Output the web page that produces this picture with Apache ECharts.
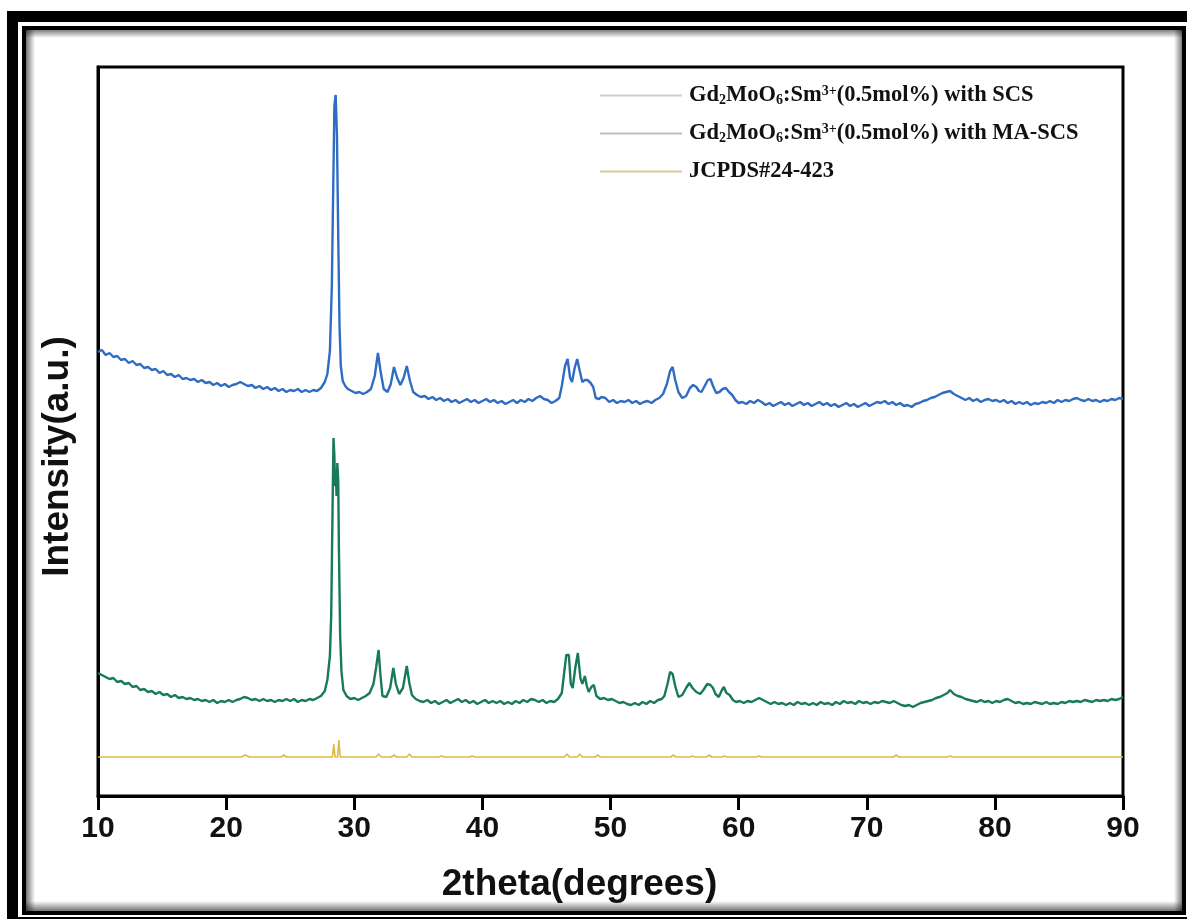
<!DOCTYPE html>
<html>
<head>
<meta charset="utf-8">
<script src="https://cdn.jsdelivr.net/npm/echarts@6/dist/echarts.min.js"></script>
<style>
  html, body { margin: 0; padding: 0; background: #fff; }
  #chart { width: 1187px; height: 919px; }
</style>
</head>
<body>
<div id="chart"></div>
<script>
// series names (legend order)
const seriesNames = [
  'Gd₂MoO₆:Sm³⁺(0.5mol%) with SCS',
  'Gd₂MoO₆:Sm³⁺(0.5mol%) with MA-SCS',
  'JCPDS#24-423'
];
const xTicks = [10, 20, 30, 40, 50, 60, 70, 80, 90];

// MA-SCS pattern (top, blue), stacked offset already included
const maScs = [
  [10.0,444],[10.3,446],[10.6,441],[10.9,443],[11.2,439],[11.5,440],[11.8,436],[12.1,437],[12.4,433],[12.7,435],
  [13.0,431],[13.3,432],[13.6,428],[13.9,429],[14.2,426],[14.5,427],[14.8,423],[15.1,425],[15.4,421],[15.7,422],
  [16.0,419],[16.3,421],[16.6,417],[16.9,418],[17.2,416],[17.5,417],[17.8,414],[18.1,416],[18.4,413],[18.7,414],
  [19.0,411],[19.3,413],[19.6,410],[19.9,412],[20.2,409],[20.5,411],[20.8,412],[21.1,414],[21.4,412],[21.7,410],
  [22.0,411],[22.3,408],[22.6,410],[22.9,407],[23.2,409],[23.5,406],[23.8,408],[24.1,405],[24.4,407],[24.7,404],
  [25.0,406],[25.3,405],[25.6,407],[25.9,404],[26.2,406],[26.5,404],[26.8,406],[27.1,405],[27.4,408],[27.7,414],
  [27.9,422],[28.1,445],[28.25,510],[28.35,600],[28.45,690],[28.55,701],[28.65,660],[28.75,560],[28.85,470],[28.95,430],
  [29.1,415],[29.3,410],[29.5,407],[29.8,405],[30.1,403],[30.4,404],[30.7,402],[31.0,404],[31.3,407],[31.6,420],
  [31.85,443],[32.05,425],[32.3,407],[32.6,404],[32.85,412],[33.1,429],[33.35,418],[33.6,411],[33.85,418],[34.1,430],
  [34.35,415],[34.6,404],[34.9,401],[35.2,399],[35.5,400],[35.8,397],[36.1,399],[36.4,396],[36.7,398],[37.0,395],
  [37.3,397],[37.6,394],[37.9,396],[38.2,393],[38.5,395],[38.8,397],[39.1,394],[39.4,396],[39.7,393],[40.0,395],
  [40.3,397],[40.6,394],[40.9,396],[41.2,393],[41.5,395],[41.8,392],[42.1,394],[42.4,396],[42.7,393],[43.0,396],
  [43.3,394],[43.6,397],[43.9,395],[44.2,398],[44.5,400],[44.8,397],[45.1,396],[45.4,393],[45.7,395],[46.0,398],
  [46.2,410],[46.45,430],[46.65,437],[46.85,418],[47.0,414],[47.2,428],[47.4,437],[47.6,425],[47.8,414],[48.0,416],
  [48.2,416],[48.45,413],[48.65,409],[48.85,398],[49.1,397],[49.3,399],[49.6,398],[49.9,394],[50.2,396],[50.5,393],
  [50.8,395],[51.1,394],[51.4,396],[51.7,393],[52.0,395],[52.3,392],[52.6,394],[52.9,395],[53.2,393],[53.5,396],
  [53.8,398],[54.1,402],[54.4,412],[54.65,425],[54.85,429],[55.05,416],[55.3,404],[55.6,398],[55.9,400],[56.2,408],
  [56.45,411],[56.7,409],[56.9,405],[57.1,404],[57.35,410],[57.6,416],[57.8,417],[58.0,410],[58.25,403],[58.5,404],
  [58.75,407],[59.0,408],[59.25,404],[59.5,401],[59.75,396],[60.0,393],[60.3,394],[60.6,392],[60.9,395],[61.2,393],
  [61.5,396],[61.8,394],[62.1,391],[62.4,393],[62.7,390],[63.0,392],[63.3,394],[63.6,391],[63.9,393],[64.2,390],
  [64.5,392],[64.8,394],[65.1,391],[65.4,393],[65.7,390],[66.0,392],[66.3,394],[66.6,391],[66.9,393],[67.2,390],
  [67.5,392],[67.8,389],[68.1,391],[68.4,393],[68.7,390],[69.0,392],[69.3,389],[69.6,391],[69.9,393],[70.2,390],
  [70.5,392],[70.8,394],[71.1,393],[71.4,395],[71.7,392],[72.0,394],[72.3,391],[72.6,393],[72.9,390],[73.2,391],
  [73.5,389],[73.8,392],[74.1,393],[74.4,395],[74.7,396],[75.0,398],[75.3,399],[75.6,401],[75.9,403],[76.2,404],
  [76.5,405],[76.8,402],[77.1,400],[77.4,398],[77.7,396],[78.0,398],[78.3,395],[78.6,397],[78.9,394],[79.2,396],
  [79.5,397],[79.8,395],[80.1,396],[80.4,394],[80.7,396],[81.0,393],[81.3,395],[81.6,392],[81.9,394],[82.2,392],
  [82.5,394],[82.8,391],[83.1,393],[83.4,392],[83.7,394],[84.0,393],[84.3,395],[84.6,393],[84.9,396],[85.2,394],
  [85.5,396],[85.8,395],[86.1,397],[86.4,398],[86.7,396],[87.0,395],[87.3,397],[87.6,395],[87.9,396],[88.2,394],
  [88.5,396],[88.8,395],[89.1,397],[89.4,396],[89.7,398],[90.0,397]
];

// SCS pattern (middle, green)
const scs = [
  [10.0,123],[10.3,121],[10.6,119],[10.9,117],[11.2,118],[11.5,114],[11.8,115],[12.1,112],[12.4,113],[12.7,109],
  [13.0,110],[13.3,106],[13.6,107],[13.9,104],[14.2,105],[14.5,102],[14.8,104],[15.1,101],[15.4,102],[15.7,99],
  [16.0,101],[16.3,98],[16.6,99],[16.9,97],[17.2,98],[17.5,96],[17.8,97],[18.1,95],[18.4,96],[18.7,94],
  [19.0,96],[19.3,93],[19.6,95],[19.9,94],[20.2,96],[20.5,94],[20.8,96],[21.1,97],[21.4,99],[21.7,98],
  [22.0,96],[22.3,97],[22.6,95],[22.9,97],[23.2,95],[23.5,96],[23.8,94],[24.1,96],[24.4,95],[24.7,97],
  [25.0,95],[25.3,97],[25.6,94],[25.9,96],[26.2,95],[26.5,97],[26.8,96],[27.1,98],[27.4,100],[27.7,105],
  [27.9,116],[28.1,140],[28.2,180],[28.3,280],[28.38,358],[28.45,340],[28.5,310],[28.55,325],[28.62,300],[28.68,333],
  [28.75,315],[28.8,250],[28.9,160],[29.0,125],[29.15,106],[29.4,100],[29.7,97],[30.0,98],[30.3,96],[30.6,98],
  [30.9,100],[31.2,103],[31.5,112],[31.7,128],[31.9,146],[32.05,120],[32.2,100],[32.5,99],[32.8,108],[33.05,128],
  [33.25,112],[33.5,102],[33.8,108],[34.1,130],[34.3,113],[34.5,101],[34.8,97],[35.1,95],[35.4,94],[35.7,96],
  [36.0,93],[36.3,95],[36.6,92],[36.9,94],[37.2,96],[37.5,93],[37.8,95],[38.1,97],[38.4,94],[38.7,96],
  [39.0,93],[39.3,95],[39.6,92],[39.9,94],[40.2,96],[40.5,93],[40.8,95],[41.1,93],[41.4,95],[41.7,92],
  [42.0,94],[42.3,92],[42.6,95],[42.9,93],[43.2,96],[43.5,94],[43.8,97],[44.1,96],[44.4,94],[44.7,96],
  [45.0,93],[45.3,95],[45.6,94],[45.9,97],[46.2,103],[46.4,125],[46.55,141],[46.75,141],[46.9,112],[47.05,108],
  [47.25,128],[47.45,143],[47.65,118],[47.8,112],[48.0,120],[48.15,110],[48.3,104],[48.5,109],[48.7,111],[48.9,100],
  [49.2,97],[49.5,98],[49.8,96],[50.1,97],[50.4,95],[50.7,93],[51.0,94],[51.3,92],[51.6,91],[51.9,93],
  [52.2,91],[52.5,94],[52.8,92],[53.1,95],[53.4,93],[53.7,96],[54.0,97],[54.2,100],[54.45,112],[54.65,124],
  [54.85,122],[55.05,110],[55.3,99],[55.6,101],[55.9,108],[56.15,113],[56.4,108],[56.7,104],[57.0,102],[57.25,106],
  [57.55,112],[57.8,111],[58.0,108],[58.2,102],[58.45,99],[58.7,106],[58.85,109],[59.05,103],[59.3,101],[59.55,96],
  [59.8,94],[60.1,95],[60.4,93],[60.7,95],[61.0,94],[61.3,96],[61.6,98],[61.9,96],[62.2,94],[62.5,92],
  [62.8,94],[63.1,92],[63.4,93],[63.7,91],[64.0,93],[64.3,91],[64.6,94],[64.9,92],[65.2,93],[65.5,91],
  [65.8,93],[66.1,91],[66.4,94],[66.7,92],[67.0,93],[67.3,91],[67.6,94],[67.9,92],[68.2,95],[68.5,93],
  [68.8,94],[69.1,92],[69.4,95],[69.7,93],[70.0,94],[70.3,92],[70.6,94],[70.9,93],[71.2,95],[71.5,94],
  [71.8,93],[72.1,95],[72.4,93],[72.7,91],[73.0,90],[73.3,91],[73.6,89],[73.9,91],[74.2,93],[74.5,94],
  [74.8,95],[75.1,96],[75.4,98],[75.7,99],[76.0,101],[76.3,103],[76.5,106],[76.8,102],[77.1,100],[77.4,99],
  [77.7,97],[78.0,96],[78.3,95],[78.6,94],[78.9,96],[79.2,94],[79.5,95],[79.8,93],[80.1,95],[80.4,94],
  [80.7,96],[81.0,97],[81.3,95],[81.6,93],[81.9,94],[82.2,92],[82.5,93],[82.8,92],[83.1,94],[83.4,93],
  [83.7,92],[84.0,94],[84.3,92],[84.6,93],[84.9,92],[85.2,94],[85.5,93],[85.8,95],[86.1,94],[86.4,95],
  [86.7,94],[87.0,96],[87.3,95],[87.6,94],[87.9,96],[88.2,95],[88.5,96],[88.8,95],[89.1,97],[89.4,96],
  [89.7,97],[90.0,99]
];

// JCPDS#24-423 reference (bottom, yellow)
const jcpds = [
  [10,39],[21.2,39],[21.5,41],[21.8,39],[24.3,39],[24.5,41],[24.7,39],[28.3,39],[28.4,52],[28.5,39],
  [28.7,39],[28.8,56],[28.9,39],[31.7,39],[31.9,42],[32.1,39],[32.9,39],[33.1,41],[33.3,39],[34.1,39],
  [34.3,42],[34.5,39],[36.6,39],[36.8,40],[37.0,39],[39.0,39],[39.2,40],[39.4,39],[46.4,39],[46.6,42],
  [46.8,39],[47.4,39],[47.6,42],[47.8,39],[48.8,39],[49.0,41],[49.2,39],[54.7,39],[54.9,41],[55.1,39],
  [56.2,39],[56.4,40],[56.6,39],[57.5,39],[57.7,41],[57.9,39],[58.7,39],[58.9,40],[59.1,39],[61.4,39],
  [61.6,40],[61.8,39],[72.1,39],[72.3,41],[72.5,39],[76.3,39],[76.5,40],[76.7,39],[90,39]
];

const lineColors = ['#187a58', '#2f6cc2', '#dcbb4a'];
const legendColors = ['#d3cfc1', '#b8bfc8', '#d9c7a0'];

const chart = echarts.init(document.getElementById('chart'));

function richName(name) {
  return name.replace(/₂/g, '{sub|2}').replace(/₆/g, '{sub|6}').replace(/³⁺/g, '{sup|3+}');
}

const option = {
  backgroundColor: '#fff',
  animation: false,
  grid: {
    left: 98, right: 64, top: 67, bottom: 123,
    show: true, borderColor: '#000', borderWidth: 3, backgroundColor: 'transparent'
  },
  legend: {
    orient: 'vertical',
    left: 595, top: 79,
    itemWidth: 82, itemHeight: 2, itemGap: 15,
    icon: 'rect',
    data: seriesNames.map((n, i) => ({
      name: n,
      itemStyle: { color: legendColors[i], borderWidth: 0 }
    })),
    formatter: richName,
    textStyle: {
      fontFamily: 'Liberation Serif', fontWeight: 'bold', fontSize: 22.5, color: '#111',
      padding: [0, 0, 0, 2],
      rich: {
        sub: { fontFamily: 'Liberation Serif', fontWeight: 'bold', fontSize: 14, color: '#111', verticalAlign: 'bottom', padding: [7, 0, 0, 0] },
        sup: { fontFamily: 'Liberation Serif', fontWeight: 'bold', fontSize: 14, color: '#111', verticalAlign: 'top', padding: [0, 0, 7, 0] }
      }
    }
  },
  xAxis: {
    type: 'value', min: 10, max: 90, interval: 10,
    name: '2theta(degrees)', nameLocation: 'middle', nameGap: 70,
    nameTextStyle: { fontFamily: 'Liberation Sans', fontWeight: 'bold', fontSize: 37, color: '#111', padding: [0, 62, 0, 0] },
    axisLine: { lineStyle: { color: '#000', width: 3 } },
    axisTick: { show: true, inside: false, length: 14, lineStyle: { color: '#000', width: 3 } },
    axisLabel: {
      margin: 18, fontFamily: 'Liberation Sans', fontWeight: 'bold', fontSize: 30, color: '#111',
      formatter: v => (xTicks.indexOf(v) >= 0 ? String(v) : '')
    },
    splitLine: { show: false }
  },
  yAxis: {
    type: 'value', min: 0, max: 729,
    name: 'Intensity(a.u.)', nameLocation: 'middle', nameGap: 22,
    nameTextStyle: { fontFamily: 'Liberation Sans', fontWeight: 'bold', fontSize: 37, color: '#111', padding: [0, 50, 0, 0] },
    axisLine: { show: true, lineStyle: { color: '#000', width: 3 } },
    axisTick: { show: false },
    axisLabel: { show: false },
    splitLine: { show: false }
  },
  series: [
    { name: seriesNames[0], type: 'line', data: scs, symbol: 'none', lineStyle: { color: lineColors[0], width: 2.4 }, itemStyle: { color: lineColors[0] } },
    { name: seriesNames[1], type: 'line', data: maScs, symbol: 'none', lineStyle: { color: lineColors[1], width: 2.4 }, itemStyle: { color: lineColors[1] } },
    { name: seriesNames[2], type: 'line', data: jcpds, symbol: 'none', lineStyle: { color: lineColors[2], width: 1.6 }, itemStyle: { color: lineColors[2] } }
  ],
  graphic: [
    // photo frame around the figure
    { type: 'rect', shape: { x: 7, y: 11, width: 1190, height: 920 }, style: { fill: '#000' }, z: -10, silent: true },
    { type: 'rect', shape: { x: 18, y: 22, width: 1169, height: 895 }, style: { fill: '#fff' }, z: -9, silent: true },
    { type: 'rect', shape: { x: 24, y: 28, width: 1160, height: 885 }, style: { fill: '#fff', stroke: '#000', lineWidth: 4 }, z: -8, silent: true },
    { type: 'rect', shape: { x: 26, y: 30, width: 9, height: 881 }, style: { fill: new echarts.graphic.LinearGradient(0, 0, 1, 0, [{ offset: 0, color: 'rgba(0,0,0,0.55)' }, { offset: 1, color: 'rgba(0,0,0,0)' }]) }, z: -7, silent: true },
    { type: 'rect', shape: { x: 26, y: 30, width: 1156, height: 8 }, style: { fill: new echarts.graphic.LinearGradient(0, 0, 0, 1, [{ offset: 0, color: 'rgba(0,0,0,0.5)' }, { offset: 1, color: 'rgba(0,0,0,0)' }]) }, z: -7, silent: true },
    { type: 'rect', shape: { x: 1174, y: 30, width: 8, height: 881 }, style: { fill: new echarts.graphic.LinearGradient(0, 0, 1, 0, [{ offset: 0, color: 'rgba(0,0,0,0)' }, { offset: 1, color: 'rgba(0,0,0,0.5)' }]) }, z: -7, silent: true },
    { type: 'rect', shape: { x: 26, y: 901, width: 1156, height: 10 }, style: { fill: new echarts.graphic.LinearGradient(0, 0, 0, 1, [{ offset: 0, color: 'rgba(0,0,0,0)' }, { offset: 1, color: 'rgba(0,0,0,0.55)' }]) }, z: -7, silent: true }
  ]
};

chart.setOption(option);
</script>
</body>
</html>
